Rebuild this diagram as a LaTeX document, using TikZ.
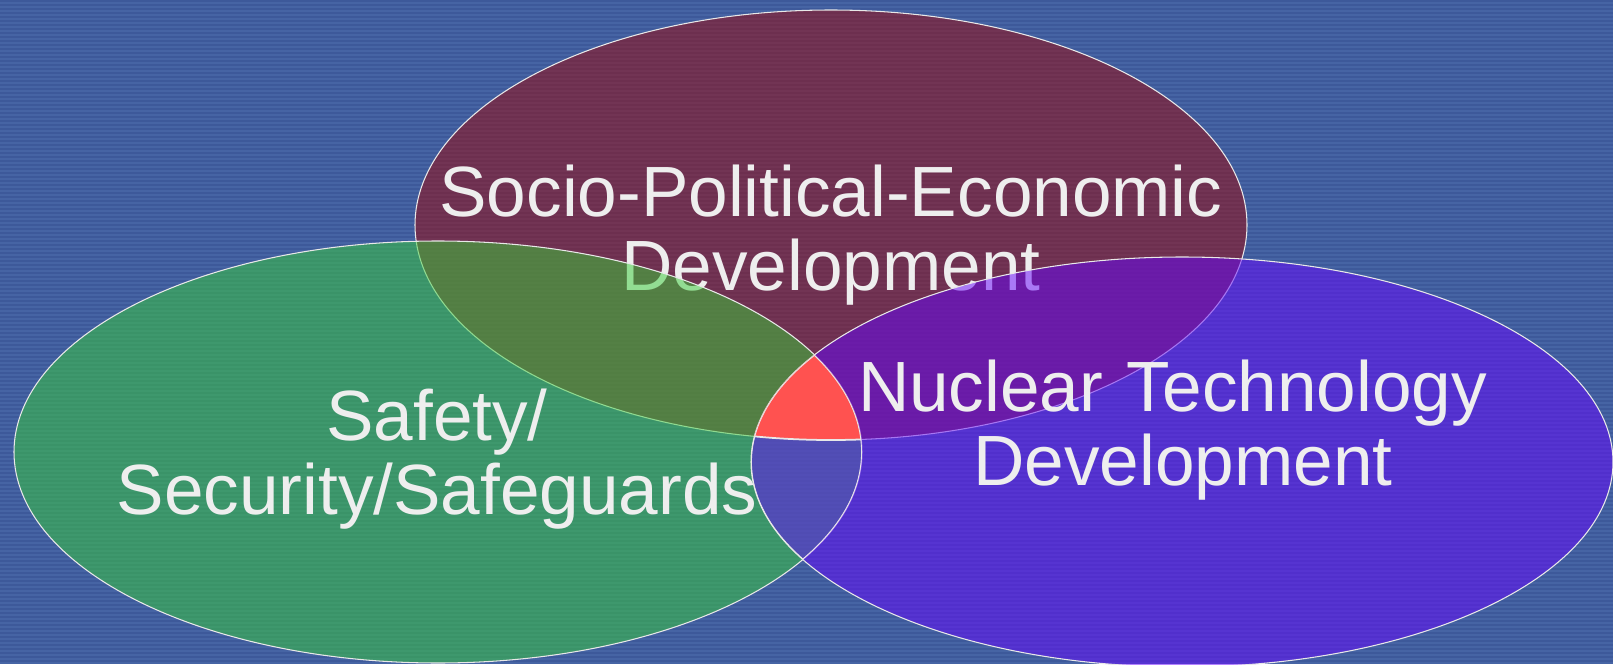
\documentclass[tikz,border=0pt]{standalone}
\usepackage{xcolor}
\usepackage{fontspec}
\setmainfont{Liberation Sans}
\usepackage{tikz}
\usetikzlibrary{positioning,calc}

\definecolor{slidebg}{RGB}{61,89,154}
\definecolor{slidestripe}{RGB}{70,100,164}
\definecolor{topred}{RGB}{158,6,6}
\definecolor{leftgreen}{RGB}{56,205,56}
\definecolor{rightblue}{RGB}{102,6,255}
\definecolor{corered}{RGB}{255,82,80}
\definecolor{rimwhite}{RGB}{232,232,232}
\definecolor{textwhite}{RGB}{238,238,238}

\begin{document}
\begin{tikzpicture}[x=0.02cm,y=0.02cm,
        venn/.style={line width=0.6pt,draw=rimwhite,fill opacity=0.5},
        vtext/.style={anchor=base,inner sep=0pt,text width=20cm,align=center,text=textwhite,font=\fontsize{40.5}{42.5}\selectfont}]
    \useasboundingbox (0,0) rectangle (1613,664);
    % background with thin stripes
    \fill[slidebg] (0,0) rectangle (1613,664);
    \foreach \y in {0,4,...,660}
        \fill[slidestripe] (0,\y) rectangle (1613,\y+2);
    % three sets, each with its text
    \draw[venn,fill=topred] (831,439) ellipse [x radius=416,y radius=215];
    \node[vtext] (socio) at (831,448) {Socio-Political-Economic\\Development};
    \draw[venn,fill=leftgreen] (438,212) ellipse [x radius=424,y radius=211];
    \node[vtext] (safety) at (437,224) {Safety/\\Security/Safeguards};
    \draw[venn,fill=rightblue] (1182,202) ellipse [x radius=431,y radius=205];
    % the common part
    \begin{scope}
        \clip (438,212) ellipse [x radius=424,y radius=211];
        \clip (1182,202) ellipse [x radius=431,y radius=205];
        \fill[corered] (831,439) ellipse [x radius=416,y radius=215];
        \draw[rimwhite,line width=1pt] (831,439) ellipse [x radius=416,y radius=215];
        \draw[rimwhite,line width=1pt] (438,212) ellipse [x radius=424,y radius=211];
        \draw[rimwhite,line width=1pt] (1182,202) ellipse [x radius=431,y radius=205];
    \end{scope}
    \node[vtext] (nuclear) at (1183,253) {Nuclear Technology\kern12pt\\Development};
\end{tikzpicture}
\end{document}
